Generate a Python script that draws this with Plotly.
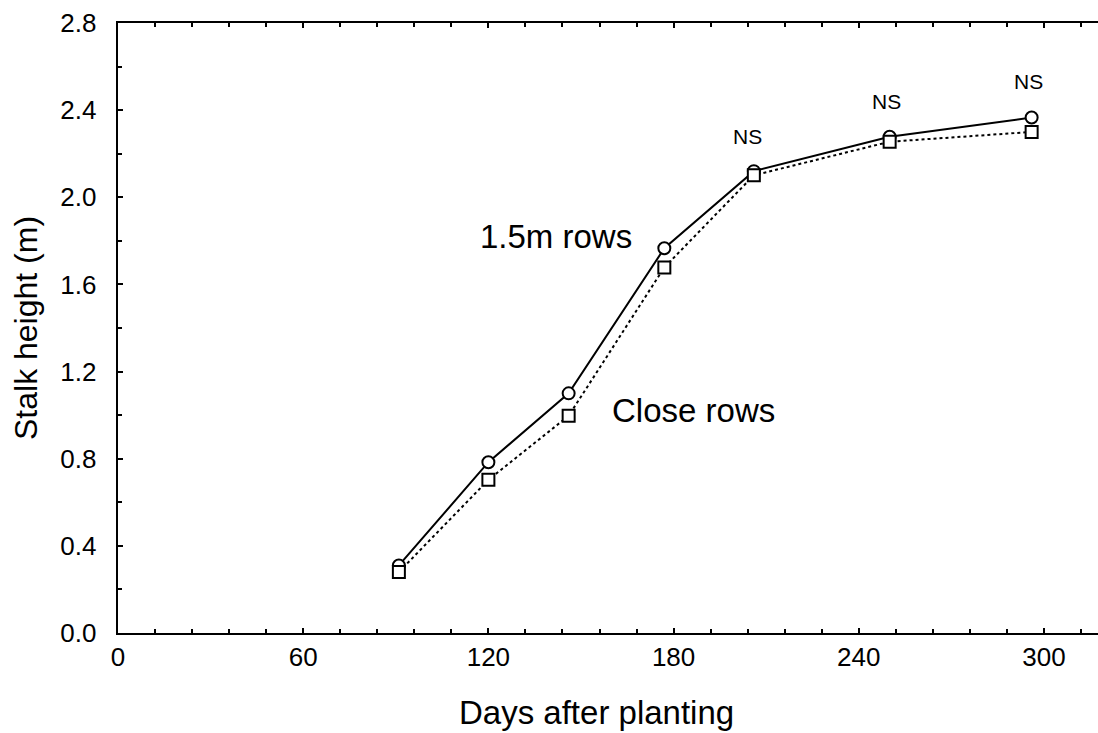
import plotly.graph_objects as go

days = [91, 120, 146, 177, 206, 250, 296]
wide_rows = [0.31, 0.784, 1.10, 1.766, 2.12, 2.278, 2.366]
close_rows = [0.28, 0.703, 0.997, 1.678, 2.101, 2.255, 2.30]

ns_days = [204, 249, 295]
ns_y = [2.28, 2.44, 2.53]

x_ticks = [0, 60, 120, 180, 240, 300]
y_ticks = [0.0, 0.4, 0.8, 1.2, 1.6, 2.0, 2.4, 2.8]
y_tick_labels = ["0.0", "0.4", "0.8", "1.2", "1.6", "2.0", "2.4", "2.8"]

FONT = "Arial, Liberation Sans, sans-serif"

W, H = 1098, 733
ML, MR, MT, MB = 118, 0, 23, 100
PW = W - ML - MR
PH = H - MT - MB

fig = go.Figure()
fig.add_trace(go.Scatter(
    x=days, y=wide_rows, mode="lines+markers", name="1.5m rows",
    line=dict(color="black", width=2, dash="solid"),
    marker=dict(symbol="circle", size=12, color="white",
                line=dict(color="black", width=2)),
))
fig.add_trace(go.Scatter(
    x=days, y=close_rows, mode="lines+markers", name="Close rows",
    line=dict(color="black", width=2, dash="dot"),
    marker=dict(symbol="square", size=12, color="white",
                line=dict(color="black", width=2)),
))

annotations = [
    dict(x=141.8, y=1.822, text="1.5m rows", showarrow=False,
         font=dict(family=FONT, size=33, color="black")),
    dict(x=186.5, y=1.02, text="Close rows", showarrow=False,
         font=dict(family=FONT, size=33, color="black")),
    # axis titles
    dict(xref="paper", yref="paper", x=(596 - ML) / PW, y=(MT + PH - 712) / PH,
         text="Days after planting", showarrow=False, xanchor="center", yanchor="middle",
         font=dict(family=FONT, size=33, color="black")),
    dict(xref="paper", yref="paper", x=(26 - ML) / PW, y=0.5,
         text="Stalk height (m)", showarrow=False, textangle=-90,
         xanchor="center", yanchor="middle",
         font=dict(family=FONT, size=32, color="black")),
]
for d, v in zip(ns_days, ns_y):
    annotations.append(dict(x=d, y=v, text="NS", showarrow=False,
                            font=dict(family=FONT, size=21, color="black")))

fig.update_layout(
    width=W, height=H,
    margin=dict(l=ML, r=MR, t=MT, b=MB),
    paper_bgcolor="white", plot_bgcolor="white",
    showlegend=False,
    annotations=annotations,
    font=dict(family=FONT, color="black"),
)

fig.update_xaxes(
    range=[0, 317.5], tickmode="array", tickvals=x_ticks,
    ticks="inside", ticklen=5, tickwidth=2, tickcolor="black",
    showline=True, linecolor="black", linewidth=2, mirror="ticks",
    showgrid=False, zeroline=False,
    tickfont=dict(family=FONT, size=26, color="black"),
    minor=dict(dtick=12, ticks="inside", ticklen=4, tickwidth=2, tickcolor="black", showgrid=False),
)
fig.update_yaxes(
    range=[0, 2.8], tickmode="array", tickvals=y_ticks,
    ticktext=[t + "\u00a0\u00a0" for t in y_tick_labels],
    ticks="inside", ticklen=5, tickwidth=2, tickcolor="black",
    showline=True, linecolor="black", linewidth=2, mirror=False,
    showgrid=False, zeroline=False,
    tickfont=dict(family=FONT, size=26, color="black"),
    minor=dict(dtick=0.2, ticks="inside", ticklen=4, tickwidth=2, tickcolor="black", showgrid=False),
)

fig.write_html("out.html")
